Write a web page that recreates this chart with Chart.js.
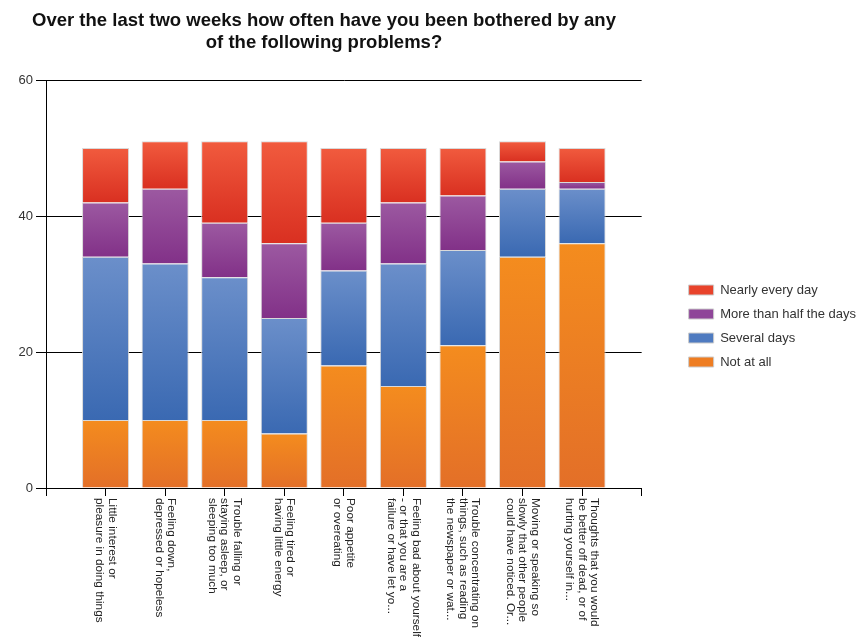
<!DOCTYPE html>
<html>
<head>
<meta charset="utf-8">
<script src="https://cdn.jsdelivr.net/npm/chart.js@4.4.1/dist/chart.umd.min.js"></script>
<style>
  body { margin: 0; background: #fff; }
  #wrap { width: 856px; height: 642px; }
</style>
</head>
<body>
<div id="wrap"><canvas id="chart" width="856" height="642"></canvas></div>
<script>
const FONT = '"Liberation Sans", Arial, sans-serif';

/* categories (already wrapped the way the picture shows them) */
const categories = [
    ["Little interest or", "pleasure in doing things"],
    ["Feeling down,", "depressed or hopeless"],
    ["Trouble falling or", "staying asleep, or", "sleeping too much"],
    ["Feeling tired or", "having little energy"],
    ["Poor appetite", "or overeating"],
    ["Feeling bad about yourself", "- or that you are a", "failure or have let yo..."],
    ["Trouble concentrating on", "things, such as reading", "the newspaper or wat..."],
    ["Moving or speaking so", "slowly that other people", "could have noticed. Or..."],
    ["Thoughts that you would", "be better off dead, or of", "hurting yourself in..."],
];

/* series values, bottom of the stack first */
const notAtAll       = [10, 10, 10, 8, 18, 15, 21, 34, 36];
const severalDays    = [24, 23, 21, 17, 14, 18, 14, 10, 8];
const moreThanHalf   = [8, 11, 8, 11, 7, 9, 8, 4, 1];
const nearlyEveryDay = [8, 7, 12, 15, 11, 8, 7, 3, 5];

const seriesNames = ["Not at all", "Several days", "More than half the days", "Nearly every day"];
const seriesValues = [notAtAll, severalDays, moreThanHalf, nearlyEveryDay];

const yTicks = [0, 20, 40, 60];

/* colours: top and bottom of each gradient, plus a flat one for the legend */
const gradTop = ["#f48c1e", "#6b8fca", "#9c59a1", "#f15b3e"];
const gradBottom = ["#e36f28", "#3a69b2", "#823188", "#d93021"];
const flatColors = ["#ee7d22", "#4f7bc0", "#8f4699", "#e8432b"];

/* empty slot at each end so bars sit on ticks 1..9 */
const xLabels = ["", ...categories.map(c => c.join(" ")), ""];
const pad = arr => [null, ...arr, null];

const RIGHT_PAD = 26;
const LEGEND_SHIFT = 36;

function segmentGradient(ctx) {
    const chart = ctx.chart;
    const d = ctx.datasetIndex;
    if (!chart.chartArea || !chart.scales.y) return flatColors[d];
    const i = ctx.dataIndex - 1;
    if (i < 0 || i >= categories.length) return flatColors[d];
    let base = 0;
    for (let k = 0; k < d; k++) base += seriesValues[k][i];
    const top = base + seriesValues[d][i];
    const y = chart.scales.y;
    const g = chart.ctx.createLinearGradient(0, y.getPixelForValue(top), 0, y.getPixelForValue(base));
    g.addColorStop(0, gradTop[d]);
    g.addColorStop(1, gradBottom[d]);
    return g;
}

const titlePlugin = {
    id: "titleText",
    afterDraw(chart) {
        const c = chart.ctx;
        c.save();
        c.font = "bold 18.5px " + FONT;
        c.fillStyle = "#111";
        c.textAlign = "center";
        c.textBaseline = "alphabetic";
        c.fillText("Over the last two weeks how often have you been bothered by any", 324, 26);
        c.fillText("of the following problems?", 324, 48);
        c.restore();
    }
};

/* x labels turned a quarter clockwise, like the picture */
const xLabelPlugin = {
    id: "xLabels",
    afterDraw(chart) {
        const x = chart.scales.x;
        const c = chart.ctx;
        c.save();
        c.font = "11.8px " + FONT;
        c.fillStyle = "#222";
        c.textAlign = "left";
        c.textBaseline = "middle";
        categories.forEach((lines, i) => {
            const px = x.getPixelForValue(i + 1);
            c.save();
            c.translate(px, x.top + 10);
            c.rotate(Math.PI / 2);
            lines.forEach((t, j) => c.fillText(t, 0, (j - (lines.length - 1) / 2) * 12.5));
            c.restore();
        });
        c.restore();
    }
};

/* push the legend into the right padding so there is a gap after the plot */
const legendShift = {
    id: "legendShift",
    afterLayout(chart) {
        if (chart.legend) {
            chart.legend.left += LEGEND_SHIFT;
            chart.legend.right += LEGEND_SHIFT;
        }
    }
};

const dataRes = {
    labels: xLabels,
    datasets: seriesNames.map((name, d) => ({
        label: name,
        data: pad(seriesValues[d]),
        backgroundColor: segmentGradient,
        borderColor: "rgba(215,215,215,0.95)",
        borderWidth: 1,
        barPercentage: 1,
        categoryPercentage: 0.79,
    })),
};

const config = {
    type: "bar",
    data: dataRes,
    options: {
        responsive: false,
        animation: false,
        layout: { padding: { top: 10, left: 0, right: RIGHT_PAD, bottom: 0 } },
        scales: {
            x: {
                stacked: true,
                offset: false,
                grid: { display: true, offset: false, drawOnChartArea: false, drawTicks: true, tickLength: 8, color: "#000" },
                border: { display: true, color: "#000" },
                ticks: { display: false },
                afterFit: s => { s.height = 154; },
            },
            y: {
                stacked: true,
                min: 0,
                max: 60,
                afterBuildTicks: s => { s.ticks = yTicks.map(v => ({ value: v })); },
                grid: { color: "#000", tickLength: 10 },
                border: { display: true, color: "#000" },
                ticks: { color: "#333", font: { family: FONT, size: 13 }, padding: 3 },
                afterFit: s => { s.width = 46; },
            },
            topSpace: {
                type: "linear",
                position: "top",
                display: true,
                grid: { display: false },
                border: { display: false },
                ticks: { display: false },
                afterFit: s => { s.height = 70; },
            },
        },
        plugins: {
            title: { display: false },
            tooltip: { enabled: false },
            legend: {
                display: true,
                position: "right",
                reverse: true,
                labels: {
                    boxWidth: 25,
                    boxHeight: 10,
                    padding: 11,
                    color: "#333",
                    font: { family: FONT, size: 13 },
                    generateLabels: chart =>
                        Chart.defaults.plugins.legend.labels.generateLabels(chart).map(l => ({
                            ...l,
                            fillStyle: flatColors[l.datasetIndex],
                            strokeStyle: "#cccccc",
                            lineWidth: 1,
                        })),
                },
            },
        },
    },
    plugins: [titlePlugin, xLabelPlugin, legendShift],
};

new Chart(document.getElementById("chart"), config);
</script>
</body>
</html>
